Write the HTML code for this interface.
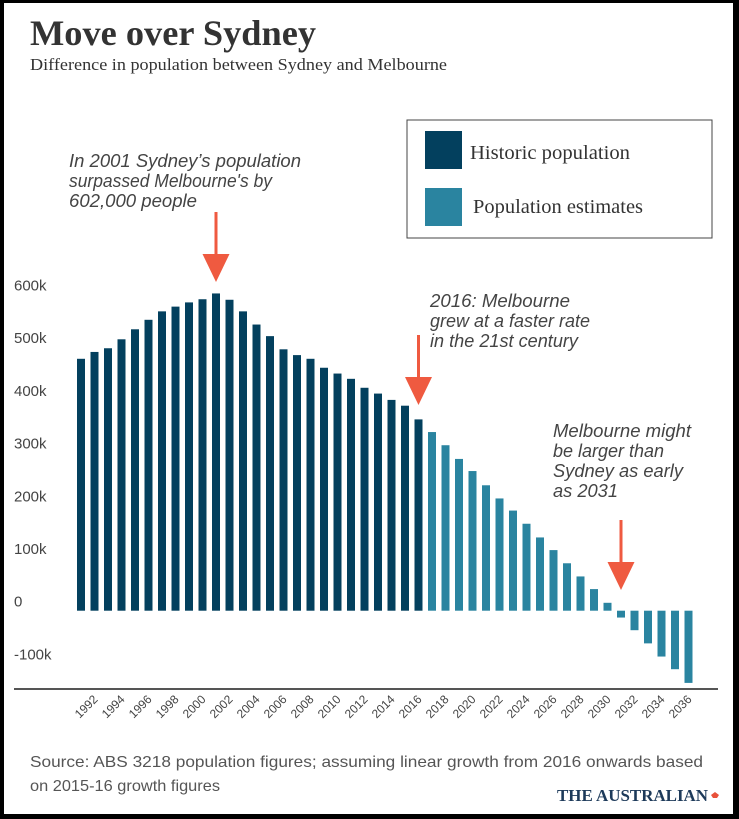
<!DOCTYPE html>
<html><head><meta charset="utf-8">
<style>
html,body{margin:0;padding:0;background:#000;}
#frame{position:absolute;left:4px;top:3px;width:729px;height:811px;background:#fff;overflow:hidden;}
svg{position:absolute;left:-4px;top:-3px;}
</style></head>
<body>
<div id="frame">
<svg id="chart" width="739" height="819" xmlns="http://www.w3.org/2000/svg">
  <text x="30" y="45" font-family="Liberation Serif, serif" font-weight="bold" font-size="36" fill="#333" textLength="286" lengthAdjust="spacingAndGlyphs">Move over Sydney</text>
  <text x="30" y="70" font-family="Liberation Serif, serif" font-size="17" fill="#333" textLength="417" lengthAdjust="spacingAndGlyphs">Difference in population between Sydney and Melbourne</text>
  <g>
    <rect x="407" y="120" width="305" height="118" fill="#fff" stroke="#444" stroke-width="1"/>
    <rect x="425" y="131" width="37" height="38" fill="#03405e"/>
    <text x="470" y="159" font-family="Liberation Serif, serif" font-size="20" fill="#333" textLength="160" lengthAdjust="spacingAndGlyphs">Historic population</text>
    <rect x="425" y="188" width="37" height="38" fill="#2a84a0"/>
    <text x="473" y="213" font-family="Liberation Serif, serif" font-size="20" fill="#333" textLength="170" lengthAdjust="spacingAndGlyphs">Population estimates</text>
  </g>
  <g font-family="Liberation Sans, sans-serif" font-style="italic" font-size="18" fill="#444">
    <text><tspan x="69" y="167" textLength="232" lengthAdjust="spacingAndGlyphs">In 2001 Sydney’s population</tspan><tspan x="69" y="187" textLength="203" lengthAdjust="spacingAndGlyphs">surpassed Melbourne's by</tspan><tspan x="69" y="207" textLength="128" lengthAdjust="spacingAndGlyphs">602,000 people</tspan></text>
    <text><tspan x="430" y="307" textLength="140" lengthAdjust="spacingAndGlyphs">2016: Melbourne</tspan><tspan x="430" y="327" textLength="160" lengthAdjust="spacingAndGlyphs">grew at a faster rate</tspan><tspan x="430" y="347" textLength="148" lengthAdjust="spacingAndGlyphs">in the 21st century</tspan></text>
    <text><tspan x="553" y="437" textLength="138" lengthAdjust="spacingAndGlyphs">Melbourne might</tspan><tspan x="553" y="457" textLength="111" lengthAdjust="spacingAndGlyphs">be larger than</tspan><tspan x="553" y="477" textLength="130" lengthAdjust="spacingAndGlyphs">Sydney as early</tspan><tspan x="553" y="497" textLength="65" lengthAdjust="spacingAndGlyphs">as 2031</tspan></text>
  </g>
  <g id="yaxis" font-family="Liberation Sans, sans-serif" font-size="15" fill="#444"></g>
  <g id="bars"></g>
  <g id="arrows"></g>
  <line x1="14" y1="689" x2="718" y2="689" stroke="#555" stroke-width="2"/>
  <g id="xaxis" font-family="Liberation Sans, sans-serif" font-size="12" fill="#444"></g>
  <text font-family="Liberation Sans, sans-serif" font-size="16" fill="#555"><tspan x="30" y="767" textLength="673" lengthAdjust="spacingAndGlyphs">Source:  ABS 3218 population figures; assuming linear growth from 2016 onwards based</tspan><tspan x="30" y="791" textLength="190" lengthAdjust="spacingAndGlyphs">on 2015-16 growth figures</tspan></text>
  <text x="557" y="801" font-family="Liberation Serif, serif" font-weight="bold" font-size="17" fill="#1d3a5a" textLength="151" lengthAdjust="spacingAndGlyphs">THE AUSTRALIAN</text>
  <path d="M711 795 l4 -3 l4 3 l-2 3 l-4 0 z" fill="#e8513a"/>
</svg>
</div>
<script>
const years = [1991,1992,1993,1994,1995,1996,1997,1998,1999,2000,2001,2002,2003,2004,2005,2006,2007,2008,2009,2010,2011,2012,2013,2014,2015,2016,2017,2018,2019,2020,2021,2022,2023,2024,2025,2026,2027,2028,2029,2030,2031,2032,2033,2034,2035,2036];
const values = [478,491,498,515,534,552,568,577,585,591,602,590,568,543,521,496,485,478,461,450,440,423,412,400,389,363,339,314,288,265,238,213,190,165,139,115,90,65,41,15,-13,-37,-62,-87,-111,-137];
const lastHistoricYear = 2016;
const yTicks = [600,500,400,300,200,100,0,-100];
const yTickLabels = ["600k","500k","400k","300k","200k","100k","0","-100k"];
const xTickYears = [1992,1994,1996,1998,2000,2002,2004,2006,2008,2010,2012,2014,2016,2018,2020,2022,2024,2026,2028,2030,2032,2034,2036];
const arrowYears = [2001,2016,2031];
const arrowTips = [282,405,590];

const NS="http://www.w3.org/2000/svg";
const x0=81, step=13.5, barW=8;
function xScale(yr){return x0+(yr-years[0])*step;}
function yScale(v){return 610.7-v*0.527;}

const yg=document.getElementById('yaxis');
yTicks.forEach((t,i)=>{
  const el=document.createElementNS(NS,'text');
  el.setAttribute('x',14);
  el.setAttribute('y',yScale(t)-4);
  el.textContent=yTickLabels[i];
  
  
  yg.appendChild(el);
});
const bg=document.getElementById('bars');
years.forEach((yr,i)=>{
  const v=values[i];
  const r=document.createElementNS(NS,'rect');
  const top=Math.min(yScale(v),yScale(0)), h=Math.abs(yScale(v)-yScale(0));
  r.setAttribute('x',xScale(yr)-barW/2);
  r.setAttribute('y',top);
  r.setAttribute('width',barW);
  r.setAttribute('height',Math.max(h,1));
  r.setAttribute('fill',yr<=lastHistoricYear?'#03405e':'#2a84a0');
  
  
  bg.appendChild(r);
});
const xg=document.getElementById('xaxis');
xTickYears.forEach(yr=>{
  const x=xScale(yr)+4, y=700;
  const t=document.createElementNS(NS,'text');
  t.setAttribute('x',x);
  t.setAttribute('y',y);
  t.setAttribute('text-anchor','end');
  t.setAttribute('transform','rotate(-45 '+x+' '+y+')');
  t.textContent=yr;
  
  
  xg.appendChild(t);
});
const ag=document.getElementById('arrows');
arrowYears.forEach((yr,i)=>{
  const x=xScale(yr), tip=arrowTips[i];
  const p=document.createElementNS(NS,'path');
  p.setAttribute('d','M'+(x-1.5)+' '+(tip-70)+' h3 v42 h12 l-13.5 28 l-13.5 -28 h12 z');
  p.setAttribute('fill','#ef5a40');
  
  
  ag.appendChild(p);
});
</script>
</body></html>
